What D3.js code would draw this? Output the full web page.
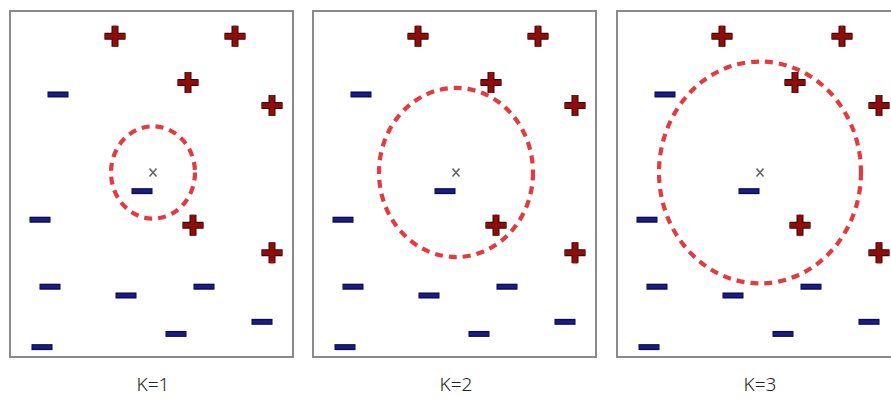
<!DOCTYPE html>
<html>
<head>
<meta charset="utf-8">
<script src="https://cdn.jsdelivr.net/npm/d3@7"></script>
<style>
  body { margin: 0; background: #fff; }
  .label { font-family: "Noto Sans", sans-serif; font-weight: 300; font-size: 19px; fill: #222; }
</style>
</head>
<body>
<div id="chart"></div>
<script>
var svgWidth = 891;
var svgHeight = 403;

// data (panel units)
var plusX = [10.5, 22.5, 17.8, 26.2, 18.3, 26.2];
var plusY = [2.3, 2.3, 6.5, 8.6, 19.5, 22.0];
var minusX = [4.8, 13.2, 3.0, 4.0, 11.6, 19.4, 16.6, 25.2, 3.2];
var minusY = [7.6, 16.4, 19.0, 25.1, 25.9, 25.1, 29.4, 28.3, 30.6];
var queryX = 14.3;
var queryY = 14.7;
var kValues = [1, 2, 3];
var radii = [4.2, 7.7, 10.1];

var plusData = plusX.map((x, i) => ({x: x, y: plusY[i]}));
var minusData = minusX.map((x, i) => ({x: x, y: minusY[i]}));

var panelLeft = [10, 313, 617];
var panelTop = 11;
var panelW = 283;
var panelH = 346;

var xScale = d3.scaleLinear().domain([0, 28.3]).range([0, panelW]);
var yScale = d3.scaleLinear().domain([0, 31.5]).range([0, panelH]);

var svg = d3.select("#chart")
  .append("svg")
  .attr("width", svgWidth)
  .attr("height", svgHeight);

// soft edges, the source picture is a bit blurry
svg.append("defs").append("filter")
  .attr("id", "soft")
  .append("feGaussianBlur")
  .attr("stdDeviation", 0.55);

kValues.forEach(function (k, i) {
  var g = svg.append("g")
    .attr("transform", `translate(${panelLeft[i]}, ${panelTop})`);

  // frame
  g.append("rect")
    .attr("width", panelW)
    .attr("height", panelH)
    .attr("fill", "#fff")
    .attr("stroke", "#8a8a8a")
    .attr("stroke-width", 2)
    .attr("filter", "url(#soft)");

  var marks = g.append("g").attr("filter", "url(#soft)");

  // minus points
  marks.selectAll(".mo").data(minusData).enter().append("line")
    .attr("x1", d => xScale(d.x) - 10.5).attr("x2", d => xScale(d.x) + 10.5)
    .attr("y1", d => yScale(d.y)).attr("y2", d => yScale(d.y))
    .attr("stroke", "#0a0a48").attr("stroke-width", 6);
  marks.selectAll(".mi").data(minusData).enter().append("line")
    .attr("x1", d => xScale(d.x) - 9.5).attr("x2", d => xScale(d.x) + 9.5)
    .attr("y1", d => yScale(d.y)).attr("y2", d => yScale(d.y))
    .attr("stroke", "#1a1a88").attr("stroke-width", 3.5);

  // plus points
  var plusPath = d => {
    var cx = xScale(d.x), cy = yScale(d.y);
    return `M${cx - 10.5},${cy}H${cx + 10.5}M${cx},${cy - 10.5}V${cy + 10.5}`;
  };
  marks.selectAll(".po").data(plusData).enter().append("path")
    .attr("d", plusPath)
    .attr("stroke", "#420606").attr("stroke-width", 7).attr("fill", "none");
  marks.selectAll(".pi").data(plusData).enter().append("path")
    .attr("d", plusPath)
    .attr("stroke", "#8e0c0c").attr("stroke-width", 4.5).attr("fill", "none");

  // query point
  var qx = xScale(queryX), qy = yScale(queryY);
  marks.append("path")
    .attr("d", `M${qx - 3.5},${qy - 4}L${qx + 3.5},${qy + 4}M${qx + 3.5},${qy - 4}L${qx - 3.5},${qy + 4}`)
    .attr("stroke", "#666").attr("stroke-width", 1.6).attr("fill", "none");

  // neighbourhood
  marks.append("ellipse")
    .attr("cx", qx).attr("cy", qy)
    .attr("rx", xScale(radii[i]) - xScale(0))
    .attr("ry", yScale(radii[i]) - yScale(0))
    .attr("fill", "none")
    .attr("stroke", "#e2262c")
    .attr("stroke-width", 4.2)
    .attr("stroke-dasharray", "8,6")
    .attr("opacity", 0.9);

  // label
  svg.append("text")
    .attr("class", "label")
    .attr("x", panelLeft[i] + qx)
    .attr("y", 391)
    .attr("text-anchor", "middle")
    .text("K=" + k);
});
</script>
</body>
</html>
